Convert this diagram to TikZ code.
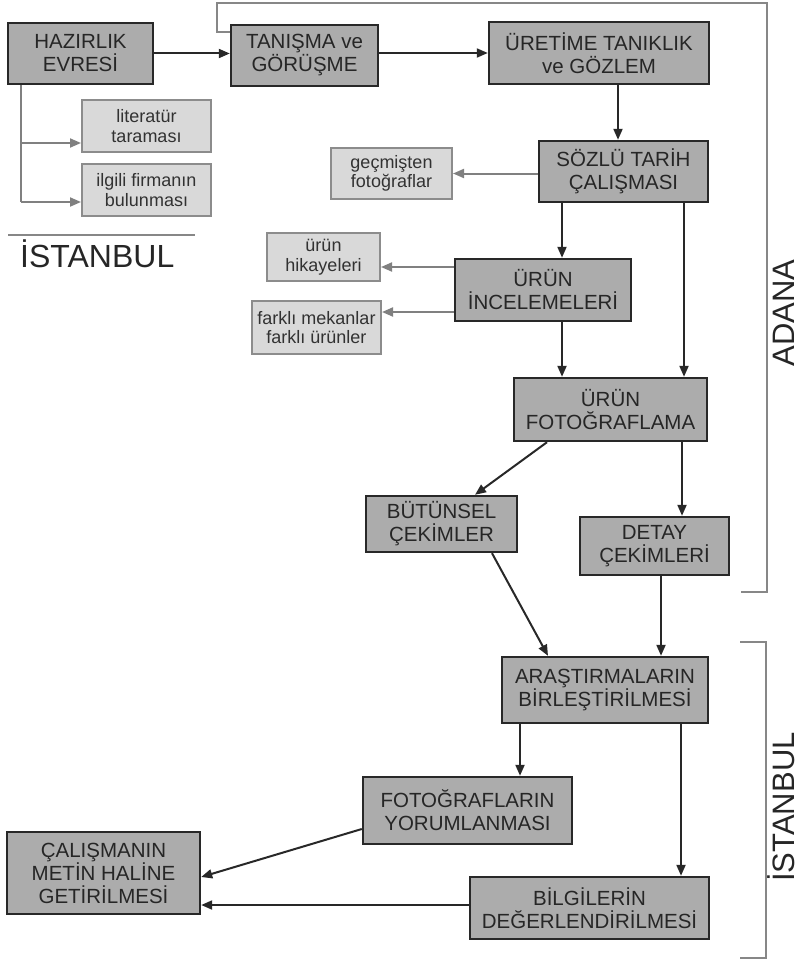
\documentclass[tikz,border=0pt]{standalone}
\usepackage{fontspec}
\setmainfont{Liberation Sans}
\usetikzlibrary{arrows.meta}
\definecolor{dfill}{RGB}{172,172,172}
\definecolor{dline}{RGB}{40,40,40}
\definecolor{lfill}{RGB}{217,217,217}
\definecolor{lline}{RGB}{140,140,140}
\definecolor{garrow}{RGB}{128,128,128}
\definecolor{txt}{RGB}{38,38,38}
\definecolor{ltxt}{RGB}{50,50,50}
\definecolor{brk}{RGB}{135,135,135}
\tikzset{
  dbox/.style={draw=dline, fill=dfill, line width=2.4pt, rectangle, inner sep=0pt, align=center, text=txt,
    font=\fontsize{20.5}{23}\selectfont},
  lbox/.style={draw=lline, fill=lfill, line width=2pt, rectangle, inner sep=0pt, align=center, text=ltxt,
    font=\fontsize{18}{19.5}\selectfont},
  arr/.style={draw=dline, line width=2pt, -{Triangle[length=11pt,width=9pt]}},
  garr/.style={draw=garrow, line width=2pt, -{Triangle[length=11pt,width=9pt]}},
  gline/.style={draw=garrow, line width=2pt},
  bline/.style={draw=brk, line width=2.5pt},
  place/.style={inner sep=0pt, text=txt, font=\fontsize{31}{31}\selectfont},
}
\begin{document}
\begin{tikzpicture}[x=1pt,y=-1pt]
\useasboundingbox (0,0) rectangle (799,963);
% column / row helpers
\coordinate (c21) at (21,0);
\coordinate (c618) at (618,0);
\coordinate (c562) at (562,0);
\coordinate (c684) at (684,0);
\coordinate (c682) at (682,0);
\coordinate (c661) at (661,0);
\coordinate (c547) at (547,0);
\coordinate (c475) at (475,0);
\coordinate (c492) at (492,0);
\coordinate (c548) at (548,0);
\coordinate (c520) at (520,0);
\coordinate (c681) at (681,0);
\coordinate (r143) at (0,143);
\coordinate (r202) at (0,202);
\coordinate (r267) at (0,267);
\coordinate (r312) at (0,312);
\coordinate (r829) at (0,829);
\coordinate (r877) at (0,877);
\coordinate (r905) at (0,905);

% boxes
\node[dbox, minimum width=145, minimum height=61] (haz) at (80.5,53.5) {HAZIRLIK\\EVRESİ};
\node[dbox, minimum width=147, minimum height=61] (tan) at (304.5,55.5) {TANIŞMA ve\\GÖRÜŞME};
\node[dbox, minimum width=220, minimum height=62] (ure) at (599,53) {ÜRETİME TANIKLIK\\ve GÖZLEM};
\node[dbox, minimum width=169, minimum height=61] (soz) at (623.5,171.5) {SÖZLÜ TARİH\\ÇALIŞMASI};
\node[lbox, minimum width=121, minimum height=51] (gec) at (391.5,173.5) {geçmişten\\fotoğraflar};
\node[lbox, minimum width=129, minimum height=52] (lit) at (146.5,126) {literatür\\taraması};
\node[lbox, minimum width=129, minimum height=52] (ilg) at (146.5,190) {ilgili firmanın\\bulunması};
\node[lbox, minimum width=113, minimum height=48] (hik) at (323.5,257) {ürün\\hikayeleri};
\node[lbox, minimum width=129, minimum height=53] (far) at (316.5,327.5) {farklı mekanlar\\farklı ürünler};
\node[dbox, minimum width=176, minimum height=62] (inc) at (543,290) {ÜRÜN\\İNCELEMELERİ};
\node[dbox, minimum width=193, minimum height=63] (fot) at (610.5,409.5) {ÜRÜN\\FOTOĞRAFLAMA};
\node[dbox, minimum width=151, minimum height=56] (but) at (441.5,524) {BÜTÜNSEL\\ÇEKİMLER};
\node[dbox, minimum width=149, minimum height=58] (det) at (654.5,546) {DETAY\\ÇEKİMLERİ};
\node[dbox, minimum width=206, minimum height=66] (ara) at (605,690) {ARAŞTIRMALARIN\\BİRLEŞTİRİLMESİ};
\node[dbox, minimum width=209, minimum height=67] (yor) at (467.5,810.5) {FOTOĞRAFLARIN\\YORUMLANMASI};
\node[dbox, minimum width=193, minimum height=82] (cal) at (103.5,873) {ÇALIŞMANIN\\METİN HALİNE\\GETİRİLMESİ};
\node[dbox, minimum width=239, minimum height=62] (bil) at (589.5,908) {BİLGİLERİN\\DEĞERLENDİRİLMESİ};

% place labels
\node[place, anchor=base west, font=\fontsize{32}{32}\selectfont] (ist1) at (20,267) {İSTANBUL};
\coordinate (l1a) at (8,235);
\coordinate (l1b) at (195,235);
\draw[draw=brk, line width=1.6pt] (l1a) -- (l1b);
\node[place, rotate=90, anchor=base] (adana) at (794,313) {ADANA};
\node[place, rotate=90, anchor=base] (ist2) at (794,807) {İSTANBUL};

% brackets
\coordinate (fbtop) at (767,3);
\coordinate (fbend) at (741,592);
\draw[bline] ([yshift=-8pt]tan.north west) -- ++(-13,0) |- (fbtop) |- (fbend);
\coordinate (ib1) at (740,642);
\coordinate (ib2) at (766,642);
\coordinate (ib3) at (766,958);
\coordinate (ib4) at (740,958);
\draw[bline] (ib1) -- (ib2) -- (ib3) -- (ib4);

% connectors
\draw[arr] (haz.east) -- (haz.east -| tan.west);
\draw[arr] (tan.east |- ure.west) -- (ure.west);
\draw[arr] (ure.south -| c618) -- (soz.north -| c618);
\draw[garr] (soz.west |- gec.east) -- (gec.east);
\draw[gline] (haz.south -| c21) -- (r202 -| c21);
\draw[garr] (r143 -| c21) -- (r143 -| lit.west);
\draw[garr] (r202 -| c21) -- (r202 -| ilg.west);
\draw[arr] (soz.south -| c562) -- (inc.north -| c562);
\draw[arr] (soz.south -| c684) -- (fot.north -| c684);
\draw[garr] (inc.west |- r267) -- (hik.east |- r267);
\draw[garr] (inc.west |- r312) -- (far.east |- r312);
\draw[arr] (inc.south -| c562) -- (fot.north -| c562);
\draw[arr] (fot.south -| c547) -- (but.north -| c475);
\draw[arr] (fot.south -| c682) -- (det.north -| c682);
\draw[arr] (but.south -| c492) -- (ara.north -| c548);
\draw[arr] (det.south -| c661) -- (ara.north -| c661);
\draw[arr] (ara.south -| c520) -- (yor.north -| c520);
\draw[arr] (ara.south -| c681) -- (bil.north -| c681);
\draw[arr] (yor.west |- r829) -- (cal.east |- r877);
\draw[arr] (bil.west |- r905) -- (cal.east |- r905);
\end{tikzpicture}
\end{document}
